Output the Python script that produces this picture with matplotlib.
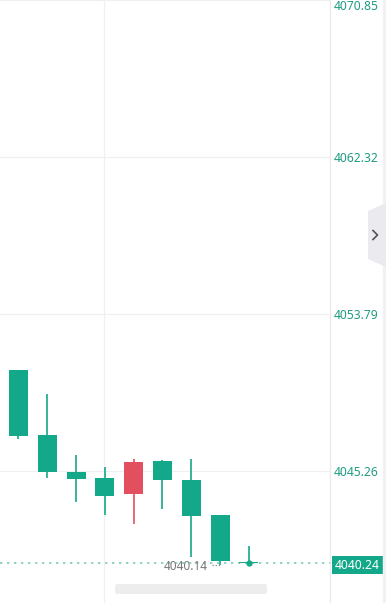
import matplotlib.pyplot as plt
from matplotlib.patches import Polygon, FancyBboxPatch
from matplotlib.transforms import blended_transform_factory

# candle data
opens = [4050.75, 4047.22, 4045.21, 4044.88, 4044.03, 4045.80, 4044.77, 4042.85, 4040.33]
highs = [4050.75, 4049.44, 4046.13, 4045.49, 4045.91, 4045.86, 4045.91, 4042.85, 4041.18]
lows = [4047.00, 4044.90, 4043.59, 4042.87, 4042.38, 4043.21, 4040.60, 4040.14, 4040.20]
closes = [4047.18, 4045.22, 4044.84, 4043.92, 4045.75, 4044.79, 4042.83, 4040.39, 4040.24]
price_ticks = [4045.26, 4053.79, 4062.32, 4070.85]
last_price = 4040.24
low_mark = 4040.14
low_index = 7

GREEN = "#14a88a"
RED = "#e2505f"
LABEL = "#1f9c82"
W, H = 386, 603

fig = plt.figure(figsize=(W / 100, H / 100), dpi=100)
fig.patch.set_facecolor("white")
ax = fig.add_axes([0, 0, 330 / W, 1])
ax.set_xlim(-0.642, 10.816)
ax.set_ylim(4038.09, 4070.85)

# grid
for p in price_ticks:
    ax.axhline(p, color="#f0f0f3", lw=0.9, zorder=0)
ax.axvline(2.97, color="#f0f0f3", lw=0.9, zorder=0)

# candles
for i, (o, h, l, c) in enumerate(zip(opens, highs, lows, closes)):
    col = RED if c > o else GREEN
    ax.vlines(i, l, h, color=col, lw=1.2, zorder=2)
    body = max(abs(c - o), 0.06)
    ax.bar(i, body, bottom=min(o, c), width=0.66, color=col, zorder=3, linewidth=0)

# last price line + dot on the last candle
ax.axhline(last_price, color="#8fd3c4", lw=1.4, ls=(0, (1.2, 2.4)), zorder=1)
ax.plot([len(closes) - 1], [last_price], "o", color=GREEN, ms=3.5, zorder=4)

# lowest point marker
ax.plot([low_index - 0.27, low_index - 0.02], [low_mark, low_mark], color="#888888", lw=0.9, ls=(0, (1, 1.5)))
ax.text(low_index - 0.42, low_mark - 0.05, "4040.14", color="#777777", fontsize=8.5, family="Noto Sans",
        ha="right", va="center")

# right axis
ax.yaxis.tick_right()
ax.set_yticks(price_ticks)
ax.set_yticklabels([f"{p:.2f}" for p in price_ticks])
ax.tick_params(axis="y", length=0, pad=3, labelcolor=LABEL, labelsize=8.7)
for lab in ax.get_yticklabels():
    lab.set_family("Noto Sans")
    lab.set_horizontalalignment("left")
ax.get_yticklabels()[-1].set_verticalalignment("top")
ax.set_xticks([])
for s in ["top", "left", "bottom"]:
    ax.spines[s].set_visible(False)
ax.spines["right"].set_color("#ebebef")
ax.spines["right"].set_linewidth(1)

# last price box
blend = blended_transform_factory(fig.transFigure, ax.transData)
ax.text(335 / W, last_price - 0.1, "4040.24", transform=blend, color="white", fontsize=8.7, family="Noto Sans",
        ha="left", va="center", clip_on=False,
        bbox=dict(boxstyle="square,pad=0.22", fc=GREEN, ec="none"))

# right edge strip and side tab
fig.patches.append(plt.Rectangle((383 / W, 0), 3 / W, 1, transform=fig.transFigure, color="#f2f2f5", zorder=0))
tab = [(386, 203), (368, 211), (368, 259), (386, 267)]
fig.patches.append(Polygon([(x / W, 1 - y / H) for x, y in tab], closed=True, transform=fig.transFigure,
                           fc="#ebebef", ec="none"))
fig.lines.append(plt.Line2D([373 / W, 377.5 / W, 373 / W], [1 - 230.5 / H, 1 - 235 / H, 1 - 239.5 / H],
                            transform=fig.transFigure, color="#555555", lw=1.2))

# blurred watermark
fig.patches.append(FancyBboxPatch((115 / W, 1 - 594 / H), 152 / W, 10 / H, boxstyle="round,pad=0,rounding_size=0.005",
                                  transform=fig.transFigure, fc="#ededed", ec="none"))

fig.savefig("out.png", dpi=100)
